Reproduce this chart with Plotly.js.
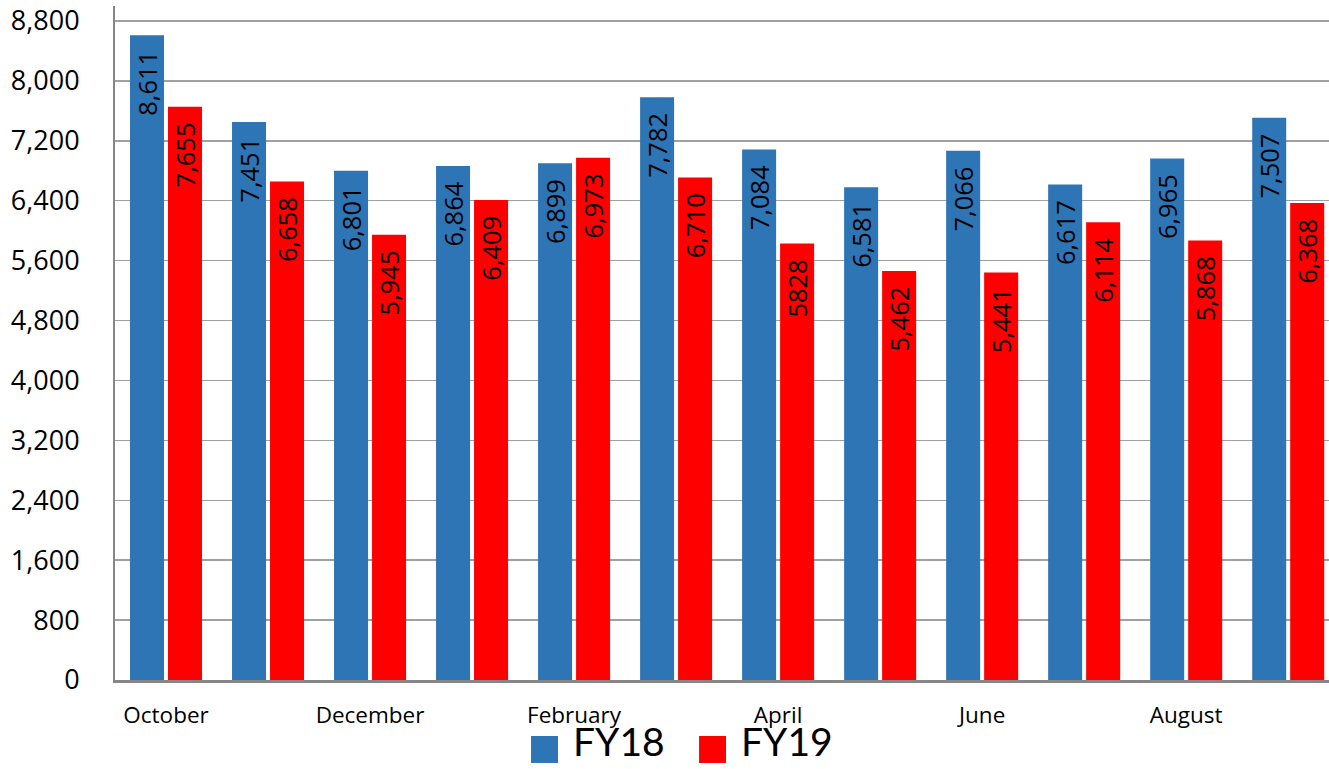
<!DOCTYPE html>
<html>
<head>
<meta charset="utf-8">
<script src="https://cdn.plot.ly/plotly-3.0.1.min.js"></script>
<style>html,body{margin:0;padding:0;background:#fff;}#chart{width:1329px;height:769px;}</style>
</head>
<body>
<div id="chart"></div>
<script>
const months = ["October","November","December","January","February","March","April","May","June","July","August","September"];
const fy18 = [8611, 7451, 6801, 6864, 6899, 7782, 7084, 6581, 7066, 6617, 6965, 7507];
const fy19 = [7655, 6658, 5945, 6409, 6973, 6710, 5828, 5462, 5441, 6114, 5868, 6368];
const fy18Labels = ["8,611","7,451","6,801","6,864","6,899","7,782","7,084","6,581","7,066","6,617","6,965","7,507"];
const fy19Labels = ["7,655","6,658","5,945","6,409","6,973","6,710","5828","5,462","5,441","6,114","5,868","6,368"];
const xTickMonths = ["October","December","February","April","June","August"];
const yTicks = [0,800,1600,2400,3200,4000,4800,5600,6400,7200,8000,8800];
const yTickText = ["0","800","1,600","2,400","3,200","4,000","4,800","5,600","6,400","7,200","8,000","8,800"];
const seriesNames = ["FY18","FY19"];
const seriesColors = ["#2E75B6","#FF0000"];

const FONT = "Open Sans, sans-serif";
const pad = "\u2002";

const traces = [fy18, fy19].map((vals, i) => ({
  type: "bar",
  name: seriesNames[i],
  x: months,
  y: vals,
  text: (i === 0 ? fy18Labels : fy19Labels).map(t => t + pad),
  textposition: "inside",
  insidetextanchor: "end",
  textangle: -90,
  constraintext: "none",
  cliponaxis: false,
  textfont: {family: FONT, size: 25.5, color: "#000"},
  marker: {color: seriesColors[i], line: {width: 0}},
  hoverinfo: "skip",
  showlegend: false
}));

// Custom legend (large swatches like the original)
const legX = [0.3427, 0.4811];
const shapes = [];
const annotations = [];
seriesNames.forEach((n, i) => {
  shapes.push({type: "rect", xref: "paper", yref: "paper",
    x0: legX[i], x1: legX[i] + 0.0222, y0: -0.1231, y1: -0.0831,
    fillcolor: seriesColors[i], line: {width: 0}});
  annotations.push({xref: "paper", yref: "paper", x: legX[i] + 0.0330, y: -0.1275,
    xanchor: "left", yanchor: "bottom", showarrow: false, text: n,
    font: {family: "Lato, sans-serif", size: 39, color: "#000"}});
});

const layout = {
  width: 1329, height: 769,
  margin: {l: 115, r: 0, t: 6, b: 89},
  paper_bgcolor: "#fff", plot_bgcolor: "#fff",
  barmode: "group",
  bargap: 0.255,
  bargroupgap: 0.105,
  showlegend: false,
  xaxis: {
    type: "category",
    categoryorder: "array", categoryarray: months,
    range: [-0.5, 11.4],
    tickmode: "array", tickvals: xTickMonths, ticktext: xTickMonths,
    ticks: "", showgrid: false,
    showline: true, linecolor: "#868686", linewidth: 2.5,
    tickfont: {family: FONT, size: 22.5, color: "#000"},
    ticklabelstandoff: 13,
    zeroline: false, fixedrange: true
  },
  yaxis: {
    range: [0, 9000],
    tickmode: "array", tickvals: yTicks, ticktext: yTickText,
    ticks: "",
    showgrid: true, gridcolor: "#A0A0A0", gridwidth: 1.5,
    showline: true, linecolor: "#868686", linewidth: 2,
    tickfont: {family: FONT, size: 27, color: "#000"},
    ticklabelstandoff: 28,
    zeroline: false, fixedrange: true
  },
  shapes: shapes,
  annotations: annotations
};

Plotly.newPlot("chart", traces, layout, {displayModeBar: false, staticPlot: true});
</script>
</body>
</html>
